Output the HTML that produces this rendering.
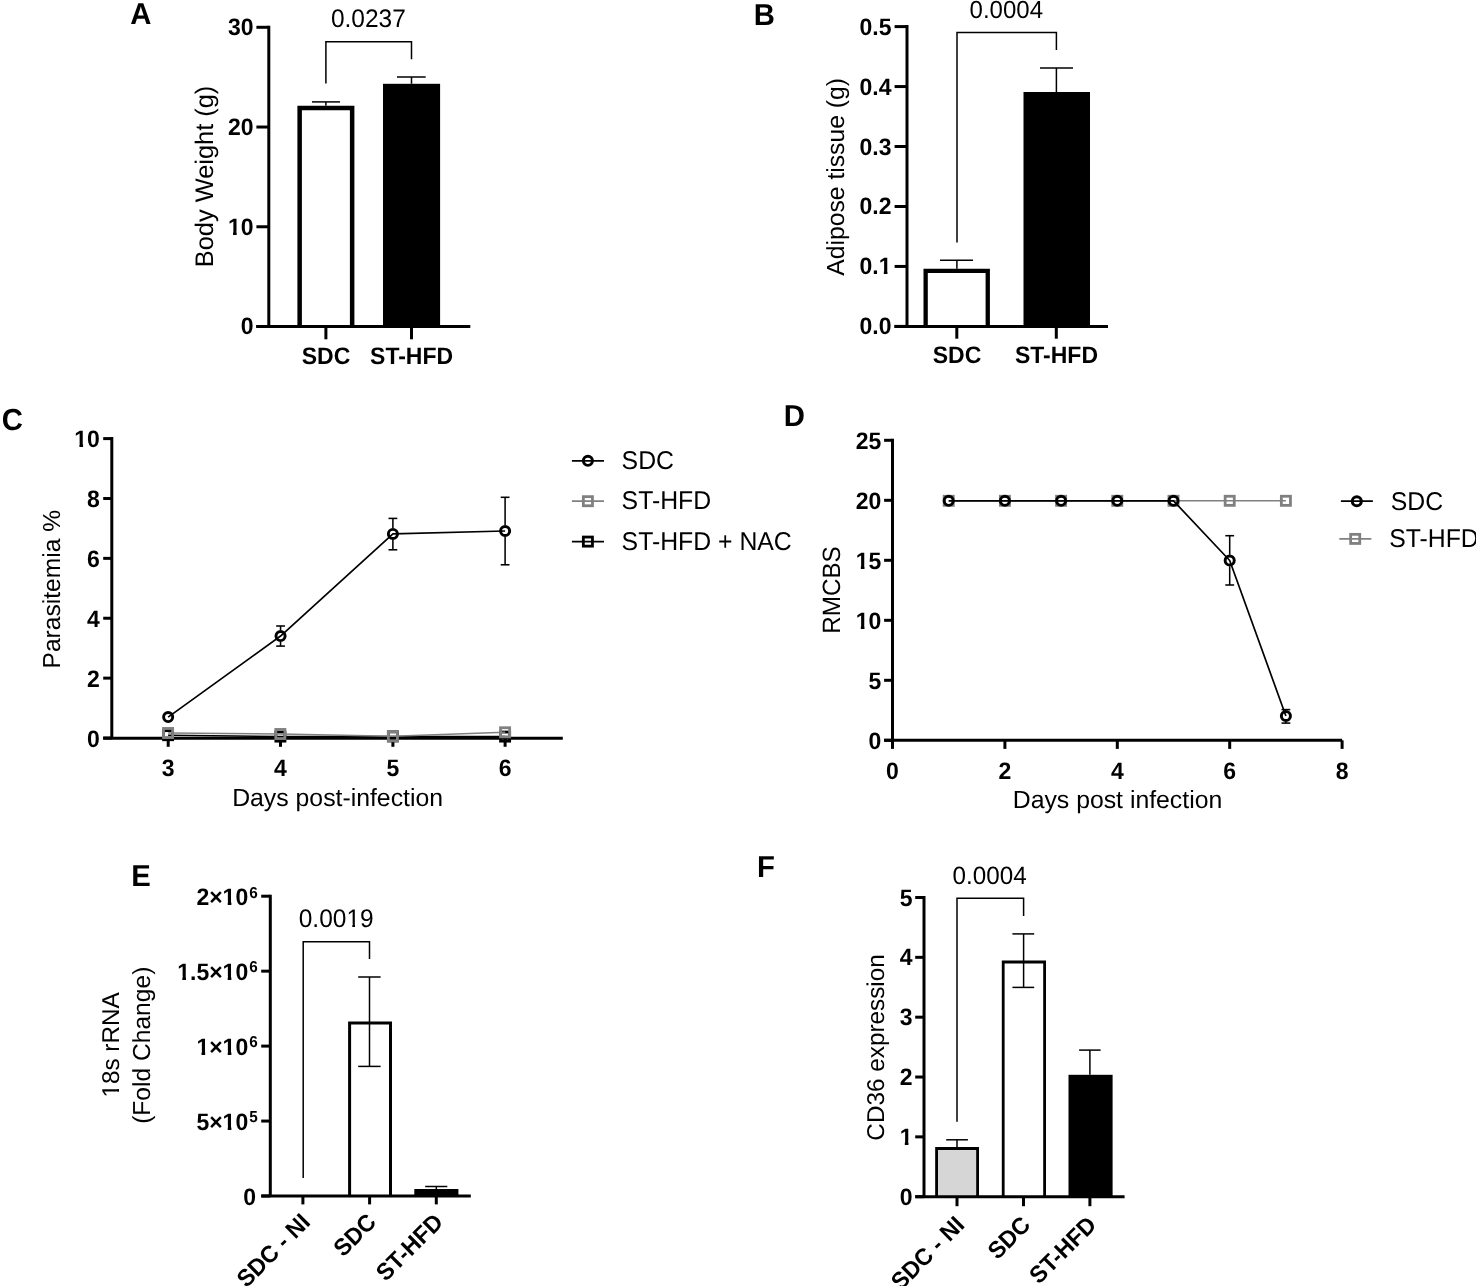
<!DOCTYPE html>
<html><head><meta charset="utf-8"><style>
html,body{margin:0;padding:0;background:#fff;}
svg{display:block;font-family:"Liberation Sans", sans-serif;text-rendering:geometricPrecision;will-change:transform;}
</style></head><body>
<svg width="1476" height="1286" viewBox="0 0 1476 1286">
<rect width="1476" height="1286" fill="#fff"/>
<rect x="297.4" y="105.7" width="57.0" height="220.8" fill="#fff"/>
<path d="M299.65,326.5 V107.95 H352.15 V326.5" fill="none" stroke="#000" stroke-width="4.5"/>
<rect x="383" y="83.8" width="57.10000000000002" height="242.7" fill="#000"/>
<rect x="923.5" y="268.8" width="66.39999999999998" height="57.599999999999966" fill="#fff"/>
<path d="M925.65,326.4 V270.95 H987.75 V326.4" fill="none" stroke="#000" stroke-width="4.3"/>
<rect x="1023.5" y="92" width="66.5" height="234.39999999999998" fill="#000"/>
<rect x="348.1" y="1021.6" width="43.89999999999998" height="174.39999999999998" fill="#fff"/>
<path d="M349.6,1196 V1023.1 H390.5 V1196" fill="none" stroke="#000" stroke-width="3"/>
<rect x="414.3" y="1189" width="44.099999999999966" height="7" fill="#000"/>
<rect x="935.2" y="1147.1" width="43.799999999999955" height="49.600000000000136" fill="#d6d6d6"/>
<path d="M936.6,1196.7 V1148.5 H977.6 V1196.7" fill="none" stroke="#000" stroke-width="2.8"/>
<rect x="1001.8" y="960.6" width="44.200000000000045" height="236.10000000000002" fill="#fff"/>
<path d="M1003.1999999999999,1196.7 V962.0 H1044.6 V1196.7" fill="none" stroke="#000" stroke-width="2.8"/>
<rect x="1068.5" y="1074.8" width="44.09999999999991" height="121.90000000000009" fill="#000"/>
<text x="0" y="0" font-size="29.3" font-weight="bold" text-anchor="start" transform="translate(130.2,24.0) scale(1,1.035)" >A</text>
<line x1="268.8" y1="25.8" x2="268.8" y2="326.5" stroke="#000" stroke-width="3" stroke-linecap="butt"/>
<line x1="256.4" y1="27.3" x2="268.8" y2="27.3" stroke="#000" stroke-width="3" stroke-linecap="butt"/>
<text x="0" y="0" font-size="23" font-weight="bold" text-anchor="end" transform="translate(253.5,35.3) scale(1,1.035)" >30</text>
<line x1="256.4" y1="127.03" x2="268.8" y2="127.03" stroke="#000" stroke-width="3" stroke-linecap="butt"/>
<text x="0" y="0" font-size="23" font-weight="bold" text-anchor="end" transform="translate(253.5,135.03) scale(1,1.035)" >20</text>
<line x1="256.4" y1="226.76000000000002" x2="268.8" y2="226.76000000000002" stroke="#000" stroke-width="3" stroke-linecap="butt"/>
<text x="0" y="0" font-size="23" font-weight="bold" text-anchor="end" transform="translate(253.5,234.76000000000002) scale(1,1.035)" >10</text>
<line x1="256.4" y1="326.49" x2="268.8" y2="326.49" stroke="#000" stroke-width="3" stroke-linecap="butt"/>
<text x="0" y="0" font-size="23" font-weight="bold" text-anchor="end" transform="translate(253.5,334.49) scale(1,1.035)" >0</text>
<line x1="256.2" y1="326.5" x2="470.3" y2="326.5" stroke="#000" stroke-width="3" stroke-linecap="butt"/>
<line x1="325.9" y1="326.5" x2="325.9" y2="339.3" stroke="#000" stroke-width="3" stroke-linecap="butt"/>
<line x1="411.5" y1="326.5" x2="411.5" y2="339.3" stroke="#000" stroke-width="3" stroke-linecap="butt"/>
<line x1="325.9" y1="105.7" x2="325.9" y2="101.9" stroke="#000" stroke-width="1.5" stroke-linecap="butt"/>
<line x1="312" y1="101.9" x2="340" y2="101.9" stroke="#000" stroke-width="1.5" stroke-linecap="butt"/>
<line x1="411.5" y1="83.8" x2="411.5" y2="77" stroke="#000" stroke-width="1.5" stroke-linecap="butt"/>
<line x1="397" y1="77" x2="425.7" y2="77" stroke="#000" stroke-width="1.5" stroke-linecap="butt"/>
<polyline points="325.9,83.4 325.9,41.8 411.5,41.8 411.5,59.3" fill="none" stroke="#000" stroke-width="1.5"/>
<text x="0" y="0" font-size="24.5" font-weight="normal" text-anchor="middle" transform="translate(368.4,27.0) scale(1,1.035)" >0.0237</text>
<text x="0" y="0" font-size="23" font-weight="bold" text-anchor="middle" transform="translate(326,363.5) scale(1,1.035)" >SDC</text>
<text x="0" y="0" font-size="23" font-weight="bold" text-anchor="middle" transform="translate(411.6,363.5) scale(1,1.035)" >ST-HFD</text>
<text x="0" y="0" font-size="25.4" font-weight="normal" text-anchor="middle" transform="translate(212.9,176.5) rotate(-90)" >Body Weight (g)</text>
<text x="0" y="0" font-size="29.3" font-weight="bold" text-anchor="start" transform="translate(753.65,25.1) scale(1,1.035)" >B</text>
<line x1="907" y1="25.1" x2="907" y2="326.4" stroke="#000" stroke-width="3" stroke-linecap="butt"/>
<line x1="894.6" y1="26.6" x2="907" y2="26.6" stroke="#000" stroke-width="3" stroke-linecap="butt"/>
<text x="0" y="0" font-size="23" font-weight="bold" text-anchor="end" transform="translate(891.5,34.6) scale(1,1.035)" >0.5</text>
<line x1="894.6" y1="86.56" x2="907" y2="86.56" stroke="#000" stroke-width="3" stroke-linecap="butt"/>
<text x="0" y="0" font-size="23" font-weight="bold" text-anchor="end" transform="translate(891.5,94.56) scale(1,1.035)" >0.4</text>
<line x1="894.6" y1="146.52" x2="907" y2="146.52" stroke="#000" stroke-width="3" stroke-linecap="butt"/>
<text x="0" y="0" font-size="23" font-weight="bold" text-anchor="end" transform="translate(891.5,154.52) scale(1,1.035)" >0.3</text>
<line x1="894.6" y1="206.48" x2="907" y2="206.48" stroke="#000" stroke-width="3" stroke-linecap="butt"/>
<text x="0" y="0" font-size="23" font-weight="bold" text-anchor="end" transform="translate(891.5,214.48) scale(1,1.035)" >0.2</text>
<line x1="894.6" y1="266.44" x2="907" y2="266.44" stroke="#000" stroke-width="3" stroke-linecap="butt"/>
<text x="0" y="0" font-size="23" font-weight="bold" text-anchor="end" transform="translate(891.5,274.44) scale(1,1.035)" >0.1</text>
<line x1="894.6" y1="326.40000000000003" x2="907" y2="326.40000000000003" stroke="#000" stroke-width="3" stroke-linecap="butt"/>
<text x="0" y="0" font-size="23" font-weight="bold" text-anchor="end" transform="translate(891.5,334.40000000000003) scale(1,1.035)" >0.0</text>
<line x1="894.4" y1="326.4" x2="1108" y2="326.4" stroke="#000" stroke-width="3" stroke-linecap="butt"/>
<line x1="956.8" y1="326.4" x2="956.8" y2="338.7" stroke="#000" stroke-width="3" stroke-linecap="butt"/>
<line x1="1056.3" y1="326.4" x2="1056.3" y2="338.7" stroke="#000" stroke-width="3" stroke-linecap="butt"/>
<line x1="956.9" y1="268.8" x2="956.9" y2="260.3" stroke="#000" stroke-width="1.5" stroke-linecap="butt"/>
<line x1="940" y1="260.3" x2="973" y2="260.3" stroke="#000" stroke-width="1.5" stroke-linecap="butt"/>
<line x1="1056.4" y1="92" x2="1056.4" y2="67.9" stroke="#000" stroke-width="1.5" stroke-linecap="butt"/>
<line x1="1040" y1="67.9" x2="1073" y2="67.9" stroke="#000" stroke-width="1.5" stroke-linecap="butt"/>
<polyline points="957,242.4 957,32.5 1056.4,32.5 1056.4,50.1" fill="none" stroke="#000" stroke-width="1.5"/>
<text x="0" y="0" font-size="24" font-weight="normal" text-anchor="middle" transform="translate(1006.3,17.7) scale(1,1.035)" >0.0004</text>
<text x="0" y="0" font-size="23" font-weight="bold" text-anchor="middle" transform="translate(957,363) scale(1,1.035)" >SDC</text>
<text x="0" y="0" font-size="23" font-weight="bold" text-anchor="middle" transform="translate(1056.5,363) scale(1,1.035)" >ST-HFD</text>
<text x="0" y="0" font-size="24.7" font-weight="normal" text-anchor="middle" transform="translate(844,176.9) rotate(-90)" >Adipose tissue (g)</text>
<text x="0" y="0" font-size="29.3" font-weight="bold" text-anchor="start" transform="translate(1.75,429.6) scale(1,1.035)" >C</text>
<line x1="111.8" y1="437.1" x2="111.8" y2="738.2" stroke="#000" stroke-width="3" stroke-linecap="butt"/>
<line x1="103.2" y1="438.6" x2="111.8" y2="438.6" stroke="#000" stroke-width="3" stroke-linecap="butt"/>
<text x="0" y="0" font-size="23" font-weight="bold" text-anchor="end" transform="translate(99.9,447.3) scale(1,1.035)" >10</text>
<line x1="103.2" y1="498.48" x2="111.8" y2="498.48" stroke="#000" stroke-width="3" stroke-linecap="butt"/>
<text x="0" y="0" font-size="23" font-weight="bold" text-anchor="end" transform="translate(99.9,507.18) scale(1,1.035)" >8</text>
<line x1="103.2" y1="558.36" x2="111.8" y2="558.36" stroke="#000" stroke-width="3" stroke-linecap="butt"/>
<text x="0" y="0" font-size="23" font-weight="bold" text-anchor="end" transform="translate(99.9,567.0600000000001) scale(1,1.035)" >6</text>
<line x1="103.2" y1="618.24" x2="111.8" y2="618.24" stroke="#000" stroke-width="3" stroke-linecap="butt"/>
<text x="0" y="0" font-size="23" font-weight="bold" text-anchor="end" transform="translate(99.9,626.94) scale(1,1.035)" >4</text>
<line x1="103.2" y1="678.12" x2="111.8" y2="678.12" stroke="#000" stroke-width="3" stroke-linecap="butt"/>
<text x="0" y="0" font-size="23" font-weight="bold" text-anchor="end" transform="translate(99.9,686.82) scale(1,1.035)" >2</text>
<line x1="103.2" y1="738.0" x2="111.8" y2="738.0" stroke="#000" stroke-width="3" stroke-linecap="butt"/>
<text x="0" y="0" font-size="23" font-weight="bold" text-anchor="end" transform="translate(99.9,746.7) scale(1,1.035)" >0</text>
<line x1="103.2" y1="738.2" x2="562.8" y2="738.2" stroke="#000" stroke-width="3" stroke-linecap="butt"/>
<line x1="168.2" y1="738.2" x2="168.2" y2="746.8" stroke="#000" stroke-width="3" stroke-linecap="butt"/>
<line x1="280.5" y1="738.2" x2="280.5" y2="746.8" stroke="#000" stroke-width="3" stroke-linecap="butt"/>
<line x1="392.9" y1="738.2" x2="392.9" y2="746.8" stroke="#000" stroke-width="3" stroke-linecap="butt"/>
<line x1="505.1" y1="738.2" x2="505.1" y2="746.8" stroke="#000" stroke-width="3" stroke-linecap="butt"/>
<polyline points="168.1,735.2 280.4,736.6 392.9,736.4 505.1,736.6" fill="none" stroke="#000" stroke-width="1.5" stroke-linejoin="round"/>
<rect x="163.55" y="730.65" width="9.10" height="9.10" fill="none" stroke="#000" stroke-width="2.8"/>
<rect x="275.85" y="732.05" width="9.10" height="9.10" fill="none" stroke="#000" stroke-width="2.8"/>
<rect x="388.35" y="731.85" width="9.10" height="9.10" fill="none" stroke="#000" stroke-width="2.8"/>
<rect x="500.55" y="732.05" width="9.10" height="9.10" fill="none" stroke="#000" stroke-width="2.8"/>
<polyline points="168.05,733 280.35,734 392.9,736.3 505.1,732.3" fill="none" stroke="#808080" stroke-width="1.5" stroke-linejoin="round"/>
<rect x="163.50" y="728.45" width="9.10" height="9.10" fill="none" stroke="#808080" stroke-width="2.8"/>
<rect x="275.80" y="729.45" width="9.10" height="9.10" fill="none" stroke="#808080" stroke-width="2.8"/>
<rect x="388.35" y="731.75" width="9.10" height="9.10" fill="none" stroke="#808080" stroke-width="2.8"/>
<rect x="500.55" y="727.75" width="9.10" height="9.10" fill="none" stroke="#808080" stroke-width="2.8"/>
<line x1="280.55" y1="626" x2="280.55" y2="630.25" stroke="#000" stroke-width="1.55" stroke-linecap="butt"/>
<line x1="280.55" y1="641.8499999999999" x2="280.55" y2="646.1" stroke="#000" stroke-width="1.55" stroke-linecap="butt"/>
<line x1="276.15000000000003" y1="626" x2="284.95" y2="626" stroke="#000" stroke-width="1.55" stroke-linecap="butt"/>
<line x1="276.15000000000003" y1="646.1" x2="284.95" y2="646.1" stroke="#000" stroke-width="1.55" stroke-linecap="butt"/>
<line x1="392.9" y1="518.4" x2="392.9" y2="528.1" stroke="#000" stroke-width="1.55" stroke-linecap="butt"/>
<line x1="392.9" y1="539.6999999999999" x2="392.9" y2="549.8" stroke="#000" stroke-width="1.55" stroke-linecap="butt"/>
<line x1="388.5" y1="518.4" x2="397.29999999999995" y2="518.4" stroke="#000" stroke-width="1.55" stroke-linecap="butt"/>
<line x1="388.5" y1="549.8" x2="397.29999999999995" y2="549.8" stroke="#000" stroke-width="1.55" stroke-linecap="butt"/>
<line x1="505.1" y1="497.3" x2="505.1" y2="525.2" stroke="#000" stroke-width="1.55" stroke-linecap="butt"/>
<line x1="505.1" y1="536.8" x2="505.1" y2="564.8" stroke="#000" stroke-width="1.55" stroke-linecap="butt"/>
<line x1="500.70000000000005" y1="497.3" x2="509.5" y2="497.3" stroke="#000" stroke-width="1.55" stroke-linecap="butt"/>
<line x1="500.70000000000005" y1="564.8" x2="509.5" y2="564.8" stroke="#000" stroke-width="1.55" stroke-linecap="butt"/>
<polyline points="168.15,717.1 280.55,636.05 392.9,533.9 505.1,531" fill="none" stroke="#000" stroke-width="1.7" stroke-linejoin="round"/>
<circle cx="168.15" cy="717.1" r="4.55" fill="none" stroke="#000" stroke-width="2.95"/>
<circle cx="280.55" cy="636.05" r="4.55" fill="none" stroke="#000" stroke-width="2.95"/>
<circle cx="392.9" cy="533.9" r="4.55" fill="none" stroke="#000" stroke-width="2.95"/>
<circle cx="505.1" cy="531" r="4.55" fill="none" stroke="#000" stroke-width="2.95"/>
<text x="0" y="0" font-size="23" font-weight="bold" text-anchor="middle" transform="translate(168.2,775.5) scale(1,1.035)" >3</text>
<text x="0" y="0" font-size="23" font-weight="bold" text-anchor="middle" transform="translate(280.5,775.5) scale(1,1.035)" >4</text>
<text x="0" y="0" font-size="23" font-weight="bold" text-anchor="middle" transform="translate(392.9,775.5) scale(1,1.035)" >5</text>
<text x="0" y="0" font-size="23" font-weight="bold" text-anchor="middle" transform="translate(505.1,775.5) scale(1,1.035)" >6</text>
<text x="0" y="0" font-size="24.8" font-weight="normal" text-anchor="middle" transform="translate(337.6,805.9)" >Days post-infection</text>
<text x="0" y="0" font-size="24.6" font-weight="normal" text-anchor="middle" transform="translate(60.2,589.2) rotate(-90)" >Parasitemia %</text>
<line x1="571.9" y1="460.8" x2="604" y2="460.8" stroke="#000" stroke-width="1.7" stroke-linecap="butt"/>
<circle cx="587.9" cy="460.8" r="4.55" fill="none" stroke="#000" stroke-width="2.95"/>
<line x1="571.9" y1="501.1" x2="604" y2="501.1" stroke="#808080" stroke-width="1.6" stroke-linecap="butt"/>
<rect x="583.35" y="496.65" width="9.10" height="9.10" fill="none" stroke="#808080" stroke-width="2.8"/>
<line x1="571.9" y1="541.6" x2="604" y2="541.6" stroke="#000" stroke-width="1.7" stroke-linecap="butt"/>
<rect x="583.35" y="537.05" width="9.10" height="9.10" fill="none" stroke="#000" stroke-width="2.8"/>
<text x="0" y="0" font-size="24.8" font-weight="normal" text-anchor="start" transform="translate(621.6,469) scale(1,1.035)" >SDC</text>
<text x="0" y="0" font-size="24.8" font-weight="normal" text-anchor="start" transform="translate(621.6,509.2) scale(1,1.035)" >ST-HFD</text>
<text x="0" y="0" font-size="24.8" font-weight="normal" text-anchor="start" transform="translate(621.6,549.7) scale(1,1.035)" >ST-HFD + NAC</text>
<text x="0" y="0" font-size="29.3" font-weight="bold" text-anchor="start" transform="translate(783.65,426.4) scale(1,1.035)" >D</text>
<line x1="892.5" y1="438.8" x2="892.5" y2="740.3" stroke="#000" stroke-width="3" stroke-linecap="butt"/>
<line x1="884.1" y1="440.3" x2="892.5" y2="440.3" stroke="#000" stroke-width="3" stroke-linecap="butt"/>
<text x="0" y="0" font-size="23" font-weight="bold" text-anchor="end" transform="translate(881.3,449.3) scale(1,1.035)" >25</text>
<line x1="884.1" y1="500.3" x2="892.5" y2="500.3" stroke="#000" stroke-width="3" stroke-linecap="butt"/>
<text x="0" y="0" font-size="23" font-weight="bold" text-anchor="end" transform="translate(881.3,509.3) scale(1,1.035)" >20</text>
<line x1="884.1" y1="560.3" x2="892.5" y2="560.3" stroke="#000" stroke-width="3" stroke-linecap="butt"/>
<text x="0" y="0" font-size="23" font-weight="bold" text-anchor="end" transform="translate(881.3,569.3) scale(1,1.035)" >15</text>
<line x1="884.1" y1="620.3" x2="892.5" y2="620.3" stroke="#000" stroke-width="3" stroke-linecap="butt"/>
<text x="0" y="0" font-size="23" font-weight="bold" text-anchor="end" transform="translate(881.3,629.3) scale(1,1.035)" >10</text>
<line x1="884.1" y1="680.3" x2="892.5" y2="680.3" stroke="#000" stroke-width="3" stroke-linecap="butt"/>
<text x="0" y="0" font-size="23" font-weight="bold" text-anchor="end" transform="translate(881.3,689.3) scale(1,1.035)" >5</text>
<line x1="884.1" y1="740.3" x2="892.5" y2="740.3" stroke="#000" stroke-width="3" stroke-linecap="butt"/>
<text x="0" y="0" font-size="23" font-weight="bold" text-anchor="end" transform="translate(881.3,749.3) scale(1,1.035)" >0</text>
<line x1="884.1" y1="740.3" x2="1342.1" y2="740.3" stroke="#000" stroke-width="3" stroke-linecap="butt"/>
<line x1="892.5" y1="740.3" x2="892.5" y2="748.9" stroke="#000" stroke-width="3" stroke-linecap="butt"/>
<line x1="1004.9" y1="740.3" x2="1004.9" y2="748.9" stroke="#000" stroke-width="3" stroke-linecap="butt"/>
<line x1="1117.3" y1="740.3" x2="1117.3" y2="748.9" stroke="#000" stroke-width="3" stroke-linecap="butt"/>
<line x1="1229.7" y1="740.3" x2="1229.7" y2="748.9" stroke="#000" stroke-width="3" stroke-linecap="butt"/>
<line x1="1342.1" y1="740.3" x2="1342.1" y2="748.9" stroke="#000" stroke-width="3" stroke-linecap="butt"/>
<text x="0" y="0" font-size="23" font-weight="bold" text-anchor="middle" transform="translate(892.5,778.5) scale(1,1.035)" >0</text>
<text x="0" y="0" font-size="23" font-weight="bold" text-anchor="middle" transform="translate(1004.9,778.5) scale(1,1.035)" >2</text>
<text x="0" y="0" font-size="23" font-weight="bold" text-anchor="middle" transform="translate(1117.3,778.5) scale(1,1.035)" >4</text>
<text x="0" y="0" font-size="23" font-weight="bold" text-anchor="middle" transform="translate(1229.7,778.5) scale(1,1.035)" >6</text>
<text x="0" y="0" font-size="23" font-weight="bold" text-anchor="middle" transform="translate(1342.1,778.5) scale(1,1.035)" >8</text>
<polyline points="948.7,500.8 1004.9,500.8 1061.1,500.8 1117.3,500.8 1173.5,500.8 1229.7,500.8 1285.9,500.8" fill="none" stroke="#808080" stroke-width="1.6" stroke-linejoin="round"/>
<rect x="944.15" y="496.25" width="9.10" height="9.10" fill="none" stroke="#808080" stroke-width="2.8"/>
<rect x="1000.35" y="496.25" width="9.10" height="9.10" fill="none" stroke="#808080" stroke-width="2.8"/>
<rect x="1056.55" y="496.25" width="9.10" height="9.10" fill="none" stroke="#808080" stroke-width="2.8"/>
<rect x="1112.75" y="496.25" width="9.10" height="9.10" fill="none" stroke="#808080" stroke-width="2.8"/>
<rect x="1168.95" y="496.25" width="9.10" height="9.10" fill="none" stroke="#808080" stroke-width="2.8"/>
<rect x="1225.15" y="496.25" width="9.10" height="9.10" fill="none" stroke="#808080" stroke-width="2.8"/>
<rect x="1281.35" y="496.25" width="9.10" height="9.10" fill="none" stroke="#808080" stroke-width="2.8"/>
<line x1="1229.7" y1="535.7" x2="1229.7" y2="554.7" stroke="#000" stroke-width="1.55" stroke-linecap="butt"/>
<line x1="1229.7" y1="566.3" x2="1229.7" y2="585" stroke="#000" stroke-width="1.55" stroke-linecap="butt"/>
<line x1="1225.3" y1="535.7" x2="1234.1000000000001" y2="535.7" stroke="#000" stroke-width="1.55" stroke-linecap="butt"/>
<line x1="1225.3" y1="585" x2="1234.1000000000001" y2="585" stroke="#000" stroke-width="1.55" stroke-linecap="butt"/>
<line x1="1285.9" y1="709.6" x2="1285.9" y2="710.2" stroke="#000" stroke-width="1.55" stroke-linecap="butt"/>
<line x1="1285.9" y1="721.8" x2="1285.9" y2="723.1" stroke="#000" stroke-width="1.55" stroke-linecap="butt"/>
<line x1="1281.5" y1="709.6" x2="1290.3000000000002" y2="709.6" stroke="#000" stroke-width="1.55" stroke-linecap="butt"/>
<line x1="1281.5" y1="723.1" x2="1290.3000000000002" y2="723.1" stroke="#000" stroke-width="1.55" stroke-linecap="butt"/>
<polyline points="948.7,500.8 1004.9,500.8 1061.1,500.8 1117.3,500.8 1173.5,500.8 1229.7,560.5 1285.9,716" fill="none" stroke="#000" stroke-width="1.7" stroke-linejoin="round"/>
<circle cx="948.7" cy="500.8" r="4.55" fill="none" stroke="#000" stroke-width="2.95"/>
<circle cx="1004.9" cy="500.8" r="4.55" fill="none" stroke="#000" stroke-width="2.95"/>
<circle cx="1061.1" cy="500.8" r="4.55" fill="none" stroke="#000" stroke-width="2.95"/>
<circle cx="1117.3" cy="500.8" r="4.55" fill="none" stroke="#000" stroke-width="2.95"/>
<circle cx="1173.5" cy="500.8" r="4.55" fill="none" stroke="#000" stroke-width="2.95"/>
<circle cx="1229.7" cy="560.5" r="4.55" fill="none" stroke="#000" stroke-width="2.95"/>
<circle cx="1285.9" cy="716" r="4.55" fill="none" stroke="#000" stroke-width="2.95"/>
<text x="0" y="0" font-size="24.8" font-weight="normal" text-anchor="middle" transform="translate(1117.5,807.8)" >Days post infection</text>
<text x="0" y="0" font-size="24.2" font-weight="normal" text-anchor="middle" transform="translate(840.3,590) rotate(-90) scale(1,1.035)" >RMCBS</text>
<line x1="1340.9" y1="501.2" x2="1372.9" y2="501.2" stroke="#000" stroke-width="1.7" stroke-linecap="butt"/>
<circle cx="1356.8" cy="501.2" r="4.55" fill="none" stroke="#000" stroke-width="2.95"/>
<line x1="1339.3" y1="538.9" x2="1371.3" y2="538.9" stroke="#808080" stroke-width="1.6" stroke-linecap="butt"/>
<rect x="1350.65" y="534.35" width="9.10" height="9.10" fill="none" stroke="#808080" stroke-width="2.8"/>
<text x="0" y="0" font-size="24.8" font-weight="normal" text-anchor="start" transform="translate(1390.8,509.6) scale(1,1.035)" >SDC</text>
<text x="0" y="0" font-size="24.8" font-weight="normal" text-anchor="start" transform="translate(1389.2,546.7) scale(1,1.035)" >ST-HFD</text>
<text x="0" y="0" font-size="29.3" font-weight="bold" text-anchor="start" transform="translate(131.17,885.8) scale(1,1.035)" >E</text>
<line x1="270.3" y1="894.7" x2="270.3" y2="1196" stroke="#000" stroke-width="3" stroke-linecap="butt"/>
<line x1="261.2" y1="896.2" x2="270.3" y2="896.2" stroke="#000" stroke-width="3" stroke-linecap="butt"/>
<line x1="261.2" y1="971.1500000000001" x2="270.3" y2="971.1500000000001" stroke="#000" stroke-width="3" stroke-linecap="butt"/>
<line x1="261.2" y1="1046.1000000000001" x2="270.3" y2="1046.1000000000001" stroke="#000" stroke-width="3" stroke-linecap="butt"/>
<line x1="261.2" y1="1121.0500000000002" x2="270.3" y2="1121.0500000000002" stroke="#000" stroke-width="3" stroke-linecap="butt"/>
<line x1="261.2" y1="1196.0" x2="270.3" y2="1196.0" stroke="#000" stroke-width="3" stroke-linecap="butt"/>
<text x="0" y="0" font-size="23" font-weight="bold" text-anchor="end" transform="translate(248.2,904.7) scale(1,1.035)" >2×10</text>
<text x="0" y="0" font-size="15.3" font-weight="bold" text-anchor="start" transform="translate(249.2,897.5) scale(1,1.035)" >6</text>
<text x="0" y="0" font-size="23" font-weight="bold" text-anchor="end" transform="translate(248.2,979.6500000000001) scale(1,1.035)" >1.5×10</text>
<text x="0" y="0" font-size="15.3" font-weight="bold" text-anchor="start" transform="translate(249.2,972.45) scale(1,1.035)" >6</text>
<text x="0" y="0" font-size="23" font-weight="bold" text-anchor="end" transform="translate(248.2,1054.6000000000001) scale(1,1.035)" >1×10</text>
<text x="0" y="0" font-size="15.3" font-weight="bold" text-anchor="start" transform="translate(249.2,1047.4) scale(1,1.035)" >6</text>
<text x="0" y="0" font-size="23" font-weight="bold" text-anchor="end" transform="translate(248.2,1129.5500000000002) scale(1,1.035)" >5×10</text>
<text x="0" y="0" font-size="15.3" font-weight="bold" text-anchor="start" transform="translate(249.2,1122.35) scale(1,1.035)" >5</text>
<text x="0" y="0" font-size="23" font-weight="bold" text-anchor="end" transform="translate(256,1204.5) scale(1,1.035)" >0</text>
<line x1="261.3" y1="1196" x2="470.8" y2="1196" stroke="#000" stroke-width="3" stroke-linecap="butt"/>
<line x1="302.9" y1="1196" x2="302.9" y2="1204.4" stroke="#000" stroke-width="3" stroke-linecap="butt"/>
<line x1="369.6" y1="1196" x2="369.6" y2="1204.4" stroke="#000" stroke-width="3" stroke-linecap="butt"/>
<line x1="436.3" y1="1196" x2="436.3" y2="1204.4" stroke="#000" stroke-width="3" stroke-linecap="butt"/>
<line x1="369.5" y1="977" x2="369.5" y2="1066.4" stroke="#000" stroke-width="1.5" stroke-linecap="butt"/>
<line x1="358.2" y1="977" x2="380.6" y2="977" stroke="#000" stroke-width="1.5" stroke-linecap="butt"/>
<line x1="358.2" y1="1066.4" x2="380.6" y2="1066.4" stroke="#000" stroke-width="1.5" stroke-linecap="butt"/>
<line x1="436.3" y1="1189" x2="436.3" y2="1186.5" stroke="#000" stroke-width="1.5" stroke-linecap="butt"/>
<line x1="425.2" y1="1186.5" x2="447.3" y2="1186.5" stroke="#000" stroke-width="1.5" stroke-linecap="butt"/>
<polyline points="303.2,1178.1 303.2,941.7 369.5,941.7 369.5,959" fill="none" stroke="#000" stroke-width="1.5"/>
<text x="0" y="0" font-size="24.5" font-weight="normal" text-anchor="middle" transform="translate(336.2,927) scale(1,1.035)" >0.0019</text>
<text x="0" y="0" font-size="24.3" font-weight="normal" text-anchor="middle" transform="translate(119.3,1044.9) rotate(-90)" >18s rRNA</text>
<text x="0" y="0" font-size="24.6" font-weight="normal" text-anchor="middle" transform="translate(149.5,1045.25) rotate(-90)" >(Fold Change)</text>
<text x="0" y="0" font-size="23" font-weight="bold" text-anchor="end" transform="translate(311.5,1223.5) rotate(-45) scale(1,1.035)" >SDC - NI</text>
<text x="0" y="0" font-size="23" font-weight="bold" text-anchor="end" transform="translate(377.5,1223.5) rotate(-45) scale(1,1.035)" >SDC</text>
<text x="0" y="0" font-size="23" font-weight="bold" text-anchor="end" transform="translate(444.5,1223.5) rotate(-45) scale(1,1.035)" >ST-HFD</text>
<text x="0" y="0" font-size="29.3" font-weight="bold" text-anchor="start" transform="translate(757.1,877.4) scale(1,1.035)" >F</text>
<line x1="924" y1="896.0" x2="924" y2="1196.7" stroke="#000" stroke-width="3" stroke-linecap="butt"/>
<line x1="915.2" y1="897.5" x2="924" y2="897.5" stroke="#000" stroke-width="3" stroke-linecap="butt"/>
<text x="0" y="0" font-size="23" font-weight="bold" text-anchor="end" transform="translate(912.5,905.5) scale(1,1.035)" >5</text>
<line x1="915.2" y1="957.34" x2="924" y2="957.34" stroke="#000" stroke-width="3" stroke-linecap="butt"/>
<text x="0" y="0" font-size="23" font-weight="bold" text-anchor="end" transform="translate(912.5,965.34) scale(1,1.035)" >4</text>
<line x1="915.2" y1="1017.1800000000001" x2="924" y2="1017.1800000000001" stroke="#000" stroke-width="3" stroke-linecap="butt"/>
<text x="0" y="0" font-size="23" font-weight="bold" text-anchor="end" transform="translate(912.5,1025.18) scale(1,1.035)" >3</text>
<line x1="915.2" y1="1077.02" x2="924" y2="1077.02" stroke="#000" stroke-width="3" stroke-linecap="butt"/>
<text x="0" y="0" font-size="23" font-weight="bold" text-anchor="end" transform="translate(912.5,1085.02) scale(1,1.035)" >2</text>
<line x1="915.2" y1="1136.8600000000001" x2="924" y2="1136.8600000000001" stroke="#000" stroke-width="3" stroke-linecap="butt"/>
<text x="0" y="0" font-size="23" font-weight="bold" text-anchor="end" transform="translate(912.5,1144.8600000000001) scale(1,1.035)" >1</text>
<line x1="915.2" y1="1196.7" x2="924" y2="1196.7" stroke="#000" stroke-width="3" stroke-linecap="butt"/>
<text x="0" y="0" font-size="23" font-weight="bold" text-anchor="end" transform="translate(912.5,1204.7) scale(1,1.035)" >0</text>
<line x1="915.4" y1="1196.7" x2="1124.6" y2="1196.7" stroke="#000" stroke-width="3" stroke-linecap="butt"/>
<line x1="957" y1="1196.7" x2="957" y2="1206.2" stroke="#000" stroke-width="3" stroke-linecap="butt"/>
<line x1="1023.5" y1="1196.7" x2="1023.5" y2="1206.2" stroke="#000" stroke-width="3" stroke-linecap="butt"/>
<line x1="1089.9" y1="1196.7" x2="1089.9" y2="1206.2" stroke="#000" stroke-width="3" stroke-linecap="butt"/>
<line x1="957" y1="1147" x2="957" y2="1139.8" stroke="#000" stroke-width="1.5" stroke-linecap="butt"/>
<line x1="946.2" y1="1139.8" x2="967.9" y2="1139.8" stroke="#000" stroke-width="1.5" stroke-linecap="butt"/>
<line x1="1023.6" y1="933.9" x2="1023.6" y2="987.4" stroke="#000" stroke-width="1.5" stroke-linecap="butt"/>
<line x1="1012.4" y1="933.9" x2="1034.2" y2="933.9" stroke="#000" stroke-width="1.5" stroke-linecap="butt"/>
<line x1="1012.4" y1="987.4" x2="1034.2" y2="987.4" stroke="#000" stroke-width="1.5" stroke-linecap="butt"/>
<line x1="1089.9" y1="1074.8" x2="1089.9" y2="1050.1" stroke="#000" stroke-width="1.5" stroke-linecap="butt"/>
<line x1="1079.1" y1="1050.1" x2="1100.6" y2="1050.1" stroke="#000" stroke-width="1.5" stroke-linecap="butt"/>
<polyline points="957,1121.8 957,898.3 1023.6,898.3 1023.6,916.1" fill="none" stroke="#000" stroke-width="1.5"/>
<text x="0" y="0" font-size="24.2" font-weight="normal" text-anchor="middle" transform="translate(989.6,884) scale(1,1.035)" >0.0004</text>
<text x="0" y="0" font-size="24.3" font-weight="normal" text-anchor="middle" transform="translate(884.1,1047.45) rotate(-90)" >CD36 expression</text>
<text x="0" y="0" font-size="23" font-weight="bold" text-anchor="end" transform="translate(965.8,1226.2) rotate(-45) scale(1,1.035)" >SDC - NI</text>
<text x="0" y="0" font-size="23" font-weight="bold" text-anchor="end" transform="translate(1031.8,1226.2) rotate(-45) scale(1,1.035)" >SDC</text>
<text x="0" y="0" font-size="23" font-weight="bold" text-anchor="end" transform="translate(1097.8,1226.2) rotate(-45) scale(1,1.035)" >ST-HFD</text>
<!--feet-->
<rect x="-24.95" y="-3.55" width="4.47" height="4.55" fill="#fff" transform="translate(253.5,234.76000000000002) scale(1,1.035)"/>
<rect x="-16.82" y="-3.55" width="4.18" height="4.55" fill="#fff" transform="translate(253.5,234.76000000000002) scale(1,1.035)"/>
<rect x="-12.16" y="-3.55" width="4.47" height="4.55" fill="#fff" transform="translate(891.5,274.44) scale(1,1.035)"/>
<rect x="-4.04" y="-3.55" width="4.18" height="4.55" fill="#fff" transform="translate(891.5,274.44) scale(1,1.035)"/>
<rect x="-24.95" y="-3.55" width="4.47" height="4.55" fill="#fff" transform="translate(99.9,447.3) scale(1,1.035)"/>
<rect x="-16.82" y="-3.55" width="4.18" height="4.55" fill="#fff" transform="translate(99.9,447.3) scale(1,1.035)"/>
<rect x="-24.95" y="-3.55" width="4.47" height="4.55" fill="#fff" transform="translate(881.3,569.3) scale(1,1.035)"/>
<rect x="-16.82" y="-3.55" width="4.18" height="4.55" fill="#fff" transform="translate(881.3,569.3) scale(1,1.035)"/>
<rect x="-24.95" y="-3.55" width="4.47" height="4.55" fill="#fff" transform="translate(881.3,629.3) scale(1,1.035)"/>
<rect x="-16.82" y="-3.55" width="4.18" height="4.55" fill="#fff" transform="translate(881.3,629.3) scale(1,1.035)"/>
<rect x="-24.95" y="-3.55" width="4.47" height="4.55" fill="#fff" transform="translate(248.2,904.7) scale(1,1.035)"/>
<rect x="-16.82" y="-3.55" width="4.18" height="4.55" fill="#fff" transform="translate(248.2,904.7) scale(1,1.035)"/>
<rect x="-70.35" y="-3.55" width="4.47" height="4.55" fill="#fff" transform="translate(248.2,979.6500000000001) scale(1,1.035)"/>
<rect x="-62.23" y="-3.55" width="4.18" height="4.55" fill="#fff" transform="translate(248.2,979.6500000000001) scale(1,1.035)"/>
<rect x="-24.96" y="-3.55" width="4.47" height="4.55" fill="#fff" transform="translate(248.2,979.6500000000001) scale(1,1.035)"/>
<rect x="-16.84" y="-3.55" width="4.18" height="4.55" fill="#fff" transform="translate(248.2,979.6500000000001) scale(1,1.035)"/>
<rect x="-51.16" y="-3.55" width="4.47" height="4.55" fill="#fff" transform="translate(248.2,1054.6000000000001) scale(1,1.035)"/>
<rect x="-43.04" y="-3.55" width="4.18" height="4.55" fill="#fff" transform="translate(248.2,1054.6000000000001) scale(1,1.035)"/>
<rect x="-24.95" y="-3.55" width="4.47" height="4.55" fill="#fff" transform="translate(248.2,1054.6000000000001) scale(1,1.035)"/>
<rect x="-16.82" y="-3.55" width="4.18" height="4.55" fill="#fff" transform="translate(248.2,1054.6000000000001) scale(1,1.035)"/>
<rect x="-24.95" y="-3.55" width="4.47" height="4.55" fill="#fff" transform="translate(248.2,1129.5500000000002) scale(1,1.035)"/>
<rect x="-16.82" y="-3.55" width="4.18" height="4.55" fill="#fff" transform="translate(248.2,1129.5500000000002) scale(1,1.035)"/>
<rect x="11.27" y="-3.03" width="4.84" height="4.03" fill="#fff" transform="translate(336.2,927) scale(1,1.035)"/>
<rect x="18.78" y="-3.03" width="4.65" height="4.03" fill="#fff" transform="translate(336.2,927) scale(1,1.035)"/>
<rect x="-51.61" y="-3.02" width="4.81" height="4.02" fill="#fff" transform="translate(119.3,1044.9) rotate(-90)"/>
<rect x="-44.16" y="-3.02" width="4.62" height="4.02" fill="#fff" transform="translate(119.3,1044.9) rotate(-90)"/>
<rect x="-12.15" y="-3.55" width="4.47" height="4.55" fill="#fff" transform="translate(912.5,1144.8600000000001) scale(1,1.035)"/>
<rect x="-4.02" y="-3.55" width="4.18" height="4.55" fill="#fff" transform="translate(912.5,1144.8600000000001) scale(1,1.035)"/>
</svg>
</body></html>
